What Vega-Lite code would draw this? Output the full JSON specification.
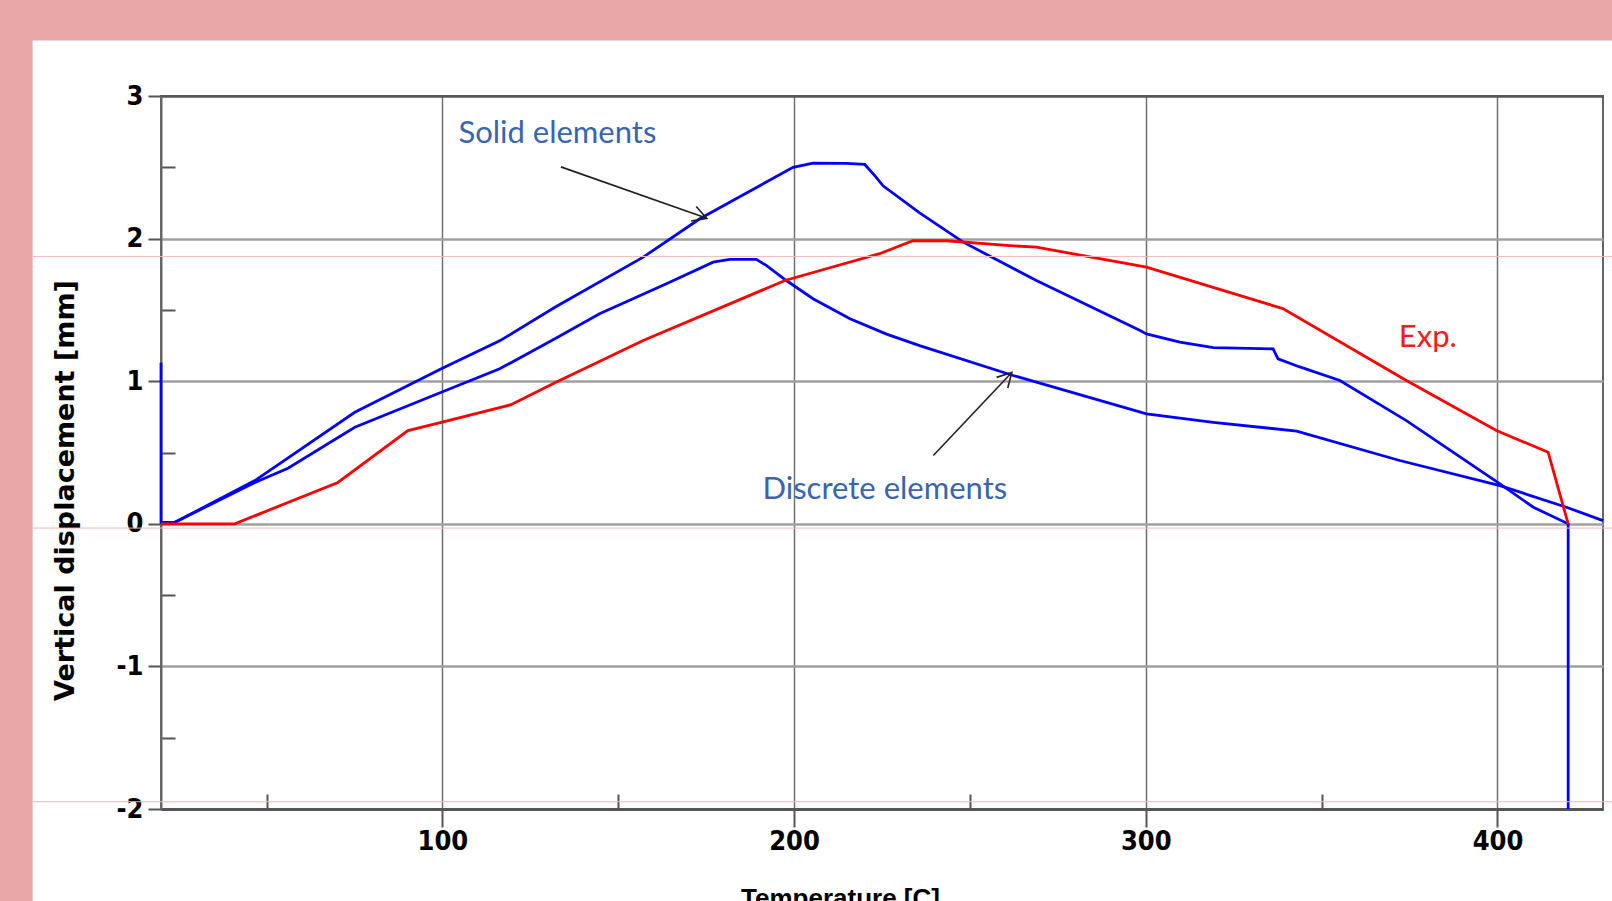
{
  "$schema": "https://vega.github.io/schema/vega-lite/v6.json",
  "width": 1442,
  "height": 713,
  "autosize": {"type": "none"},
  "padding": {"left": 161, "top": 96, "right": 9, "bottom": 92},
  "background": "#ffffff",
  "config": {"view": {"stroke": "#666666", "strokeWidth": 2}},
  "datasets": {
    "curves": [
      {"series": "Solid", "o": 1, "t": 20, "d": 1.13},
      {"series": "Solid", "o": 2, "t": 20, "d": 0.01},
      {"series": "Solid", "o": 3, "t": 23.9, "d": 0.01},
      {"series": "Solid", "o": 4, "t": 46.7, "d": 0.303},
      {"series": "Solid", "o": 5, "t": 75.1, "d": 0.782},
      {"series": "Solid", "o": 6, "t": 99.7, "d": 1.087},
      {"series": "Solid", "o": 7, "t": 116.3, "d": 1.283},
      {"series": "Solid", "o": 8, "t": 132, "d": 1.519},
      {"series": "Solid", "o": 9, "t": 157.1, "d": 1.87},
      {"series": "Solid", "o": 10, "t": 173.2, "d": 2.139},
      {"series": "Solid", "o": 11, "t": 199.7, "d": 2.5},
      {"series": "Solid", "o": 12, "t": 205.4, "d": 2.529},
      {"series": "Solid", "o": 13, "t": 214.9, "d": 2.527},
      {"series": "Solid", "o": 14, "t": 220.1, "d": 2.52},
      {"series": "Solid", "o": 15, "t": 223, "d": 2.44},
      {"series": "Solid", "o": 16, "t": 225.3, "d": 2.37},
      {"series": "Solid", "o": 17, "t": 235.7, "d": 2.18},
      {"series": "Solid", "o": 18, "t": 248.1, "d": 1.975},
      {"series": "Solid", "o": 19, "t": 268.9, "d": 1.706},
      {"series": "Solid", "o": 20, "t": 298.4, "d": 1.356},
      {"series": "Solid", "o": 21, "t": 300.2, "d": 1.332},
      {"series": "Solid", "o": 22, "t": 309.7, "d": 1.274},
      {"series": "Solid", "o": 23, "t": 319.2, "d": 1.235},
      {"series": "Solid", "o": 24, "t": 336.2, "d": 1.227},
      {"series": "Solid", "o": 25, "t": 337.6, "d": 1.157},
      {"series": "Solid", "o": 26, "t": 343.8, "d": 1.1},
      {"series": "Solid", "o": 27, "t": 355.2, "d": 1.005},
      {"series": "Solid", "o": 28, "t": 374.1, "d": 0.724},
      {"series": "Solid", "o": 29, "t": 400.7, "d": 0.28},
      {"series": "Solid", "o": 30, "t": 410.2, "d": 0.116},
      {"series": "Solid", "o": 31, "t": 420.1, "d": 0.0},
      {"series": "Solid", "o": 32, "t": 420.1, "d": -2},
      {"series": "Discrete", "o": 1, "t": 20, "d": 0},
      {"series": "Discrete", "o": 2, "t": 23.9, "d": 0.01},
      {"series": "Discrete", "o": 3, "t": 46.7, "d": 0.29},
      {"series": "Discrete", "o": 4, "t": 56.1, "d": 0.39},
      {"series": "Discrete", "o": 5, "t": 75.1, "d": 0.677},
      {"series": "Discrete", "o": 6, "t": 99.7, "d": 0.923},
      {"series": "Discrete", "o": 7, "t": 116.3, "d": 1.087},
      {"series": "Discrete", "o": 8, "t": 132, "d": 1.297},
      {"series": "Discrete", "o": 9, "t": 144.7, "d": 1.473},
      {"series": "Discrete", "o": 10, "t": 163.7, "d": 1.683},
      {"series": "Discrete", "o": 11, "t": 177, "d": 1.835},
      {"series": "Discrete", "o": 12, "t": 181.7, "d": 1.854},
      {"series": "Discrete", "o": 13, "t": 189.3, "d": 1.854},
      {"series": "Discrete", "o": 14, "t": 192.1, "d": 1.812},
      {"series": "Discrete", "o": 15, "t": 197.8, "d": 1.706},
      {"series": "Discrete", "o": 16, "t": 205.4, "d": 1.578},
      {"series": "Discrete", "o": 17, "t": 215.9, "d": 1.438},
      {"series": "Discrete", "o": 18, "t": 226.3, "d": 1.33},
      {"series": "Discrete", "o": 19, "t": 235.7, "d": 1.25},
      {"series": "Discrete", "o": 20, "t": 262.3, "d": 1.04},
      {"series": "Discrete", "o": 21, "t": 300.2, "d": 0.771},
      {"series": "Discrete", "o": 22, "t": 319.2, "d": 0.712},
      {"series": "Discrete", "o": 23, "t": 342.9, "d": 0.65},
      {"series": "Discrete", "o": 24, "t": 372.2, "d": 0.444},
      {"series": "Discrete", "o": 25, "t": 400.7, "d": 0.268},
      {"series": "Discrete", "o": 26, "t": 419.6, "d": 0.116},
      {"series": "Discrete", "o": 27, "t": 430, "d": 0.022},
      {"series": "Exp", "o": 1, "t": 20, "d": 0},
      {"series": "Exp", "o": 2, "t": 41, "d": 0},
      {"series": "Exp", "o": 3, "t": 70.3, "d": 0.29},
      {"series": "Exp", "o": 4, "t": 90.2, "d": 0.654},
      {"series": "Exp", "o": 5, "t": 99.7, "d": 0.712},
      {"series": "Exp", "o": 6, "t": 119.5, "d": 0.835},
      {"series": "Exp", "o": 7, "t": 132, "d": 0.99},
      {"series": "Exp", "o": 8, "t": 157.1, "d": 1.285},
      {"series": "Exp", "o": 9, "t": 197.4, "d": 1.706},
      {"series": "Exp", "o": 10, "t": 224.3, "d": 1.894},
      {"series": "Exp", "o": 11, "t": 233.8, "d": 1.985},
      {"series": "Exp", "o": 12, "t": 243.3, "d": 1.985},
      {"series": "Exp", "o": 13, "t": 260.4, "d": 1.952},
      {"series": "Exp", "o": 14, "t": 268.9, "d": 1.94},
      {"series": "Exp", "o": 15, "t": 300.2, "d": 1.8},
      {"series": "Exp", "o": 16, "t": 339.1, "d": 1.508},
      {"series": "Exp", "o": 17, "t": 374.1, "d": 1.005},
      {"series": "Exp", "o": 18, "t": 399.7, "d": 0.654},
      {"series": "Exp", "o": 19, "t": 414.4, "d": 0.502},
      {"series": "Exp", "o": 20, "t": 420.1, "d": 0.0}
    ],
    "labels": [
      {"label": "Solid elements", "t": 132.7, "d": 2.736},
      {"label": "Discrete elements", "t": 225.8, "d": 0.238},
      {"label": "Exp.", "t": 380.2, "d": 1.303}
    ]
  },
  "layer": [
    {
      "data": {"name": "curves"},
      "mark": {"type": "line", "strokeWidth": 2.8, "clip": false},
      "encoding": {
        "x": {
          "field": "t", "type": "quantitative",
          "scale": {"domain": [20, 430], "nice": false, "zero": false},
          "axis": {
            "values": [50, 100, 150, 200, 250, 300, 350, 400],
            "labelExpr": "datum.value % 100 == 0 ? '' + datum.value : ''",
            "labelOverlap": false,
            "labelFlush": false,
            "tickSize": {"condition": {"test": "datum.value % 100 != 0", "value": -15}, "value": 18},
            "tickColor": "#555555",
            "tickWidth": 2,
            "grid": true,
            "gridColor": "#707070",
            "gridWidth": 1.5,
            "gridOpacity": {"condition": {"test": "datum.value % 100 != 0", "value": 0}, "value": 1},
            "domainColor": "#555555",
            "domainWidth": 3,
            "labelFont": "DejaVu Sans Condensed, Roboto, sans-serif",
            "labelFontWeight": "bold",
            "labelFontSize": 27,
            "labelColor": "#000000",
            "labelPadding": 1,
            "title": "Temperature  [C]",
            "titleFont": "Liberation Sans",
            "titleFontSize": 26,
            "titleFontWeight": "bold",
            "titleColor": "#000000",
            "titleX": 679,
            "titleY": 76,
            "titleAlign": "center",
            "titleBaseline": "top"
          }
        },
        "y": {
          "field": "d", "type": "quantitative",
          "scale": {"domain": [-2, 3], "nice": false, "zero": false},
          "axis": {
            "values": [-2, -1.5, -1, -0.5, 0, 0.5, 1, 1.5, 2, 2.5, 3],
            "labelExpr": "datum.value % 1 == 0 ? '' + datum.value : ''",
            "labelOverlap": false,
            "labelFlush": false,
            "tickSize": {"condition": {"test": "datum.value % 1 != 0", "value": -14}, "value": 13},
            "tickColor": "#555555",
            "tickWidth": 2,
            "grid": true,
            "gridColor": {"condition": {"test": "datum.value == 3 || datum.value == -2", "value": "#555555"}, "value": "#a0a0a0"},
            "gridWidth": 2.5,
            "gridOpacity": {"condition": {"test": "datum.value % 1 != 0", "value": 0}, "value": 1},
            "domainColor": "#666666",
            "domainWidth": 2,
            "labelFont": "DejaVu Sans Condensed, Roboto, sans-serif",
            "labelFontWeight": "bold",
            "labelFontSize": 27,
            "labelColor": "#000000",
            "labelPadding": 5,
            "title": "Vertical displacement  [mm]",
            "titleFont": "DejaVu Sans",
            "titleFontSize": 27,
            "titleFontWeight": "bold",
            "titleColor": "#000000",
            "titleX": -96,
            "titleY": 394,
            "titleAngle": 270,
            "titleAlign": "center",
            "titleBaseline": "middle"
          }
        },
        "color": {
          "field": "series", "type": "nominal",
          "scale": {"domain": ["Solid", "Discrete", "Exp"], "range": ["#0000ff", "#0000ff", "#ff0000"]},
          "legend": null
        },
        "order": {"field": "o", "type": "quantitative"}
      }
    },
    {
      "data": {"values": [{}]},
      "mark": {"type": "rect", "color": "#eaa7a7", "clip": false},
      "encoding": {
        "x": {"datum": -80, "type": "quantitative", "scale": {"domain": [20, 430], "nice": false, "zero": false}},
        "x2": {"datum": 460},
        "y": {"datum": 3.39, "type": "quantitative", "scale": {"domain": [-2, 3], "nice": false, "zero": false}},
        "y2": {"datum": 4.5}
      }
    },
    {
      "data": {"values": [{}]},
      "mark": {"type": "rect", "color": "#eaa7a7", "clip": false},
      "encoding": {
        "x": {"datum": -80, "type": "quantitative", "scale": {"domain": [20, 430], "nice": false, "zero": false}},
        "x2": {"datum": -16.5},
        "y": {"datum": -3.5, "type": "quantitative", "scale": {"domain": [-2, 3], "nice": false, "zero": false}},
        "y2": {"datum": 4.5}
      }
    },
    {
      "data": {"values": [{}]},
      "mark": {"type": "rule", "color": "#f3b9b9", "strokeWidth": 1, "clip": false},
      "encoding": {
        "x": {"datum": -16.5, "type": "quantitative", "scale": {"domain": [20, 430], "nice": false, "zero": false}},
        "x2": {"datum": 460},
        "y": {"datum": 1.875, "type": "quantitative", "scale": {"domain": [-2, 3], "nice": false, "zero": false}}
      }
    },
    {
      "data": {"values": [{}]},
      "mark": {"type": "rule", "color": "#f3b9b9", "strokeWidth": 1, "clip": false},
      "encoding": {
        "x": {"datum": -16.5, "type": "quantitative", "scale": {"domain": [20, 430], "nice": false, "zero": false}},
        "x2": {"datum": 460},
        "y": {"datum": -0.03, "type": "quantitative", "scale": {"domain": [-2, 3], "nice": false, "zero": false}}
      }
    },
    {
      "data": {"values": [{}]},
      "mark": {"type": "rule", "color": "#f3b9b9", "strokeWidth": 1, "clip": false},
      "encoding": {
        "x": {"datum": -16.5, "type": "quantitative", "scale": {"domain": [20, 430], "nice": false, "zero": false}},
        "x2": {"datum": 460},
        "y": {"datum": -1.949, "type": "quantitative", "scale": {"domain": [-2, 3], "nice": false, "zero": false}}
      }
    },
    {
      "data": {"values": [{"t": 133.7, "d": 2.503, "t2": 175.2, "d2": 2.142}]},
      "layer": [
        {
          "mark": {"type": "rule", "color": "#222222", "strokeWidth": 1.6},
          "encoding": {
            "x": {"field": "t", "type": "quantitative"},
            "y": {"field": "d", "type": "quantitative"},
            "x2": {"field": "t2"},
            "y2": {"field": "d2"}
          }
        },
        {
          "mark": {"type": "point", "shape": "M -1 -0.55 L 0 0 L -1 0.55", "filled": false, "size": 784, "angle": 19.4, "color": "#222222", "strokeWidth": 1.6, "opacity": 1},
          "encoding": {
            "x": {"field": "t2", "type": "quantitative"},
            "y": {"field": "d2", "type": "quantitative"}
          }
        }
      ]
    },
    {
      "data": {"values": [{"t": 239.6, "d": 0.479, "t2": 261.9, "d2": 1.061}]},
      "layer": [
        {
          "mark": {"type": "rule", "color": "#222222", "strokeWidth": 1.6},
          "encoding": {
            "x": {"field": "t", "type": "quantitative"},
            "y": {"field": "d", "type": "quantitative"},
            "x2": {"field": "t2"},
            "y2": {"field": "d2"}
          }
        },
        {
          "mark": {"type": "point", "shape": "M -1 -0.55 L 0 0 L -1 0.55", "filled": false, "size": 784, "angle": 313.4, "color": "#222222", "strokeWidth": 1.6, "opacity": 1},
          "encoding": {
            "x": {"field": "t2", "type": "quantitative"},
            "y": {"field": "d2", "type": "quantitative"}
          }
        }
      ]
    },
    {
      "data": {"name": "labels"},
      "mark": {"type": "text", "font": "Lato", "fontSize": 31, "align": "center", "baseline": "middle"},
      "encoding": {
        "x": {"field": "t", "type": "quantitative"},
        "y": {"field": "d", "type": "quantitative"},
        "text": {"field": "label"},
        "color": {"condition": {"test": "datum.label == 'Exp.'", "value": "#ff1a1a"}, "value": "#3a64ad"}
      }
    }
  ]
}
